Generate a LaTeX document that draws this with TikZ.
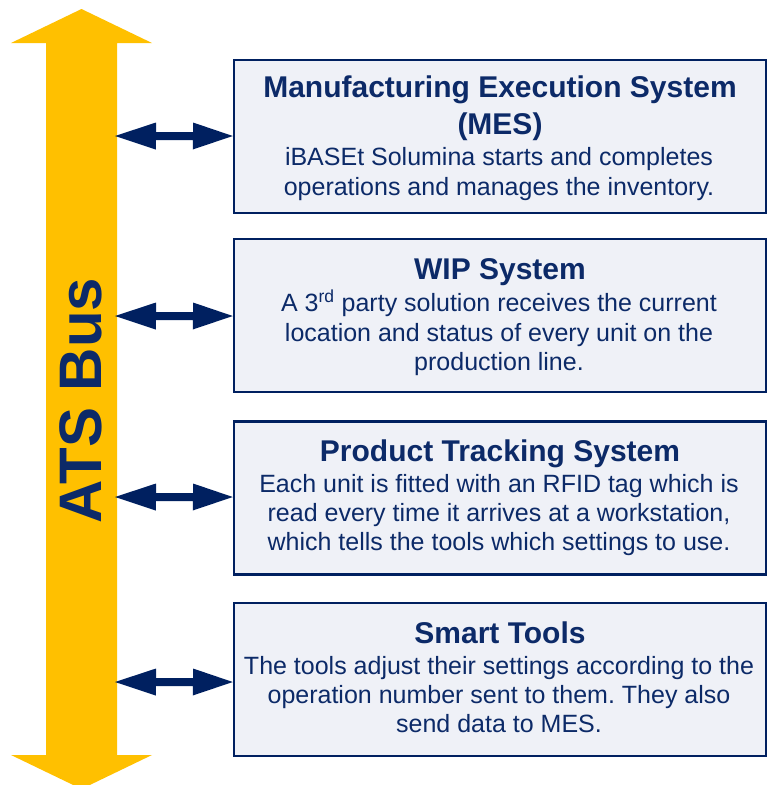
\documentclass[tikz,border=0pt]{standalone}
\usepackage{fontspec}
\setmainfont{Liberation Sans}
\definecolor{busyellow}{HTML}{FFC000}
\definecolor{navy}{HTML}{002060}
\definecolor{textnavy}{HTML}{0C2A68}
\definecolor{boxfill}{HTML}{EFF1F7}
\begin{document}
\frenchspacing
\begin{tikzpicture}[x=1pt,y=-1pt,
  box/.style={draw=navy, line width=2.5pt, fill=boxfill, minimum width=532pt, minimum height=153pt, inner sep=0pt},
  ttl/.style={anchor=base, text=textnavy, font=\fontsize{30}{36}\selectfont\bfseries, inner sep=0pt},
  bdy/.style={anchor=base, text=textnavy, font=\fontsize{25}{30}\selectfont, inner sep=0pt},
  link/.style={fill=navy}]
\useasboundingbox (0,0) rectangle (773,785);
\clip (0,0) rectangle (773,785);
% ATS bus
\fill[busyellow] (81.5,9) -- (152,43) -- (117,43) -- (117,755) -- (152,755) -- (81.5,789)
  -- (11,755) -- (46,755) -- (46,43) -- (11,43) -- cycle;
\node[rotate=90, anchor=base, text=textnavy, font=\fontsize{60}{62}\selectfont\bfseries, inner sep=0pt] (bus) at (101,400.5) {ATS Bus};
% boxes
\node[box] (mes) at (500,136.5) {};
\node[box] (wip) at (500,315.5) {};
\node[box] (pts) at (500,498) {};
\node[box] (smt) at (500,679.5) {};
% texts
\node[ttl] (mesT1) at (500,97) {Manufacturing Execution System};
\node[ttl] (mesT2) at (500,134) {(MES)};
\node[bdy] (mesB1) at (499,165) {iBASEt Solumina starts and completes};
\node[bdy] (mesB2) at (499,195) {operations and manages the inventory.};
\node[ttl] (wipT) at (500,279) {WIP System};
\node[bdy] (wipB1) at (499,311.5) {A 3\textsuperscript{rd} party solution receives the current};
\node[bdy] (wipB2) at (499,341) {location and status of every unit on the};
\node[bdy] (wipB3) at (499,370.7) {production line.};
\node[ttl] (ptsT) at (500,461.7) {Product Tracking System};
\node[bdy] (ptsB1) at (499,492.7) {Each unit is fitted with an RFID tag which is};
\node[bdy] (ptsB2) at (499,521.7) {read every time it arrives at a workstation,};
\node[bdy] (ptsB3) at (499,550.7) {which tells the tools which settings to use.};
\node[ttl] (smtT) at (500,643.3) {Smart Tools};
\node[bdy] (smtB1) at (499,674) {The tools adjust their settings according to the};
\node[bdy] (smtB2) at (499,703) {operation number sent to them. They also};
\node[bdy] (smtB3) at (499,732.7) {send data to MES.};
% connectors
\coordinate (bus1) at (115,136);
\coordinate (bus2) at (115,316);
\coordinate (bus3) at (115,497);
\coordinate (bus4) at (115,682);
\foreach \b/\n in {bus1/mes,bus2/wip,bus3/pts,bus4/smt}{
  \fill[link] (\b) -- ++(41,-13.5) -- ++(0,9.5) -- ++(37,0) -- ++(0,-9.5) -- (\b -| \n.west)
    -- ++(-40,13.5) -- ++(0,-9.5) -- ++(-37,0) -- ++(0,9.5) -- cycle;
}
\end{tikzpicture}
\end{document}
